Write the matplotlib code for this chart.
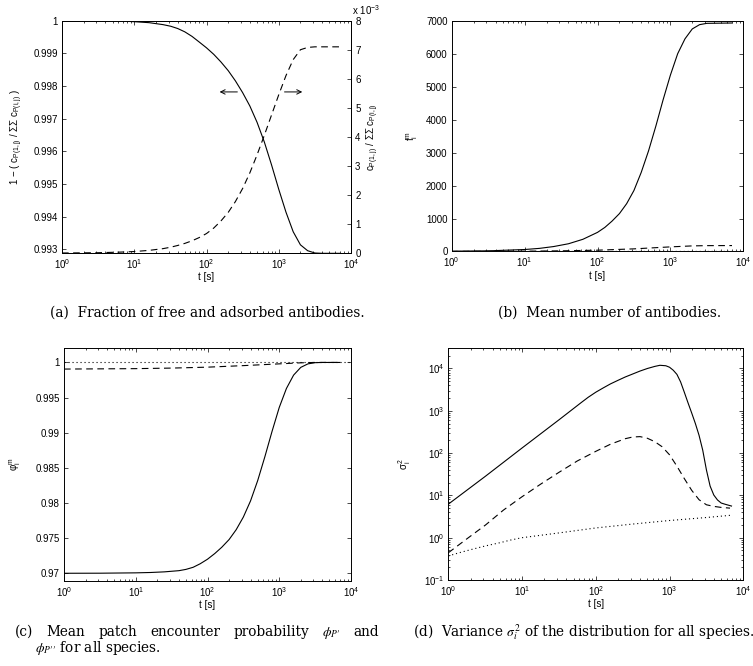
import matplotlib
matplotlib.use("Agg")
import numpy as np
import matplotlib.pyplot as plt
from matplotlib.ticker import LogLocator, FixedLocator, FuncFormatter, NullFormatter

plt.rcParams['font.family'] = ['Liberation Sans', 'DejaVu Sans']
plt.rcParams['mathtext.default'] = 'regular'
plt.rcParams['axes.linewidth'] = 0.7

# ---------------- data ----------------
# (a) fraction of free / adsorbed antibodies
t_a = [1, 3.2, 6.3, 10, 16, 25, 32, 40, 50, 63, 79, 100, 126, 158, 200, 251, 316,
       398, 501, 631, 794, 1000, 1259, 1585, 1995, 2512, 3162, 3981, 7000]
free_frac = [1.0, 0.999995, 0.99999, 0.99997, 0.99994, 0.99988, 0.99983, 0.99976,
             0.99966, 0.99952, 0.99935, 0.99917, 0.99897, 0.99874, 0.99847, 0.99816,
             0.99780, 0.99739, 0.99689, 0.99629, 0.99559, 0.99484, 0.99414, 0.99354,
             0.99314, 0.99296, 0.99289, 0.99288, 0.99288]
ads_frac = [0.0, 0.01e-3, 0.03e-3, 0.05e-3, 0.09e-3, 0.15e-3, 0.20e-3, 0.26e-3,
            0.33e-3, 0.42e-3, 0.53e-3, 0.67e-3, 0.86e-3, 1.10e-3, 1.40e-3, 1.77e-3,
            2.22e-3, 2.76e-3, 3.38e-3, 4.05e-3, 4.75e-3, 5.45e-3, 6.11e-3, 6.66e-3,
            7.00e-3, 7.08e-3, 7.10e-3, 7.10e-3, 7.10e-3]

# (b) mean number of antibodies
t_b = [1, 3.2, 10, 16, 25, 40, 63, 100, 126, 158, 200, 251, 316, 398, 501, 631,
       794, 1000, 1259, 1585, 1995, 2512, 3162, 7000]
f_solid = [10, 20, 60, 95, 150, 235, 370, 580, 730, 920, 1150, 1450, 1850, 2400,
           3050, 3800, 4600, 5350, 6000, 6450, 6750, 6880, 6920, 6930]
t_b2 = [1, 10, 32, 100, 316, 1000, 1995, 3162, 7000]
f_dashed = [2, 10, 20, 40, 80, 140, 170, 178, 180]
t_b3 = [1, 10, 100, 1000, 7000]
f_dotted = [0.5, 1.0, 2.0, 2.5, 3.0]

# (c) mean patch encounter probability
t_c = [1, 3.2, 10, 16, 25, 40, 50, 63, 79, 100, 126, 158, 200, 251, 316, 398, 501,
       631, 794, 1000, 1259, 1585, 1995, 2512, 3162, 3981, 7000]
phi_solid = [0.97, 0.97001, 0.97006, 0.97011, 0.97020, 0.97037, 0.97055, 0.97085,
             0.97135, 0.9720, 0.9728, 0.9737, 0.9748, 0.9762, 0.9780, 0.9803,
             0.9832, 0.9866, 0.9902, 0.9936, 0.9963, 0.9982, 0.9993, 0.9998,
             0.99997, 1.0, 1.0]
t_c2 = [1, 10, 32, 100, 316, 1000, 1995, 3162, 7000]
phi_dashed = [0.99906, 0.99912, 0.99920, 0.99933, 0.99955, 0.99980, 0.99995, 1.0, 1.0]
t_c3 = [1, 10000]
phi_dotted = [1.0, 1.0]

# (d) variance of the distribution
t_d1 = [1, 3.2, 10, 32, 63, 79, 100, 126, 158, 200, 251, 316, 398, 501, 631, 741,
        891, 1000, 1122, 1259, 1413, 1585, 1778, 1995, 2239, 2512, 2818, 3162,
        3548, 3981, 4467, 5012, 5623, 6918]
var_solid = [6.2, 28.5, 132, 620, 1550, 2090, 2750, 3470, 4320, 5250, 6300, 7400,
             8700, 10000, 11200, 11900, 11600, 10700, 9100, 7250, 4800, 2750, 1550,
             890, 500, 263, 117, 40, 16.6, 10.2, 7.8, 6.6, 6.2, 5.6]
t_d2 = [1, 1.8, 3.2, 5.6, 10, 18, 32, 56, 100, 158, 251, 316, 398, 501, 631, 794,
        1000, 1259, 1585, 1995, 2512, 3162, 3981, 5012, 6607]
var_dashed = [0.44, 0.95, 2.0, 4.5, 9.3, 18.6, 35.5, 65, 110, 162, 219, 240, 245,
              224, 186, 141, 91, 49, 25, 13.2, 7.9, 6.0, 5.5, 5.2, 5.0]
t_d3 = [1, 1.4, 2, 3.2, 5, 7, 10, 32, 100, 316, 1000, 3162, 6918]
var_dotted = [0.37, 0.44, 0.52, 0.64, 0.76, 0.88, 1.0, 1.3, 1.7, 2.1, 2.55, 3.0, 3.4]

# ---------------- figure ----------------
W, H = 753, 666
fig = plt.figure(figsize=(W / 100, H / 100), dpi=100)


def axes_px(left, top, right, bottom):
    return fig.add_axes([left / W, 1 - bottom / H, (right - left) / W, (bottom - top) / H])


LW = 0.8
DASH = (6, 4)
DOT = (0, (1, 2.6))


def style(ax, right=True):
    ax.set_xscale('log')
    ax.set_xlim(1, 1e4)
    ax.xaxis.set_major_locator(LogLocator(base=10, numticks=10))
    ax.xaxis.set_minor_locator(LogLocator(base=10, subs=np.arange(2, 10), numticks=10))
    ax.xaxis.set_minor_formatter(NullFormatter())
    ax.tick_params(which='both', direction='in', top=True, right=right,
                   labelsize=7, width=0.5, pad=3)
    ax.tick_params(which='major', length=3)
    ax.tick_params(which='minor', length=1.6)
    ax.set_xlabel('t [s]', fontsize=7, labelpad=1)


g = FuncFormatter(lambda v, p: f'{v:g}')

# (a)
axa = axes_px(62, 20.7, 351, 253)
style(axa, right=False)
axa.plot(t_a, free_frac, color='k', lw=LW)
axa.set_ylim(0.99289, 1.0)
axa.yaxis.set_major_locator(FixedLocator(np.round(np.arange(0.993, 1.0001, 0.001), 3)))
axa.yaxis.set_major_formatter(g)
axa.set_ylabel('1 \u2212 ( c$_{P(1,j)}$ / \u03a3\u03a3 c$_{P(i,j)}$ )', fontsize=7, labelpad=6)
axa2 = axa.twinx()
axa2.plot(t_a, ads_frac, color='k', lw=LW, ls='--', dashes=DASH)
axa2.set_ylim(0, 8e-3)
axa2.yaxis.set_major_locator(FixedLocator(np.arange(0, 9) * 1e-3))
axa2.yaxis.set_major_formatter(FuncFormatter(lambda v, p: f'{v * 1e3:g}'))
axa2.tick_params(which='both', direction='in', labelsize=7, width=0.5, length=3, pad=3)
axa2.set_ylabel('c$_{P(1,j)}$ / \u03a3\u03a3 c$_{P(i,j)}$', fontsize=7, labelpad=3)
fig.text(352 / W, 1 - 10 / H, 'x 10$^{-3}$', fontsize=7, ha='left', va='center')
arrow = dict(arrowstyle='->', color='k', lw=0.7, mutation_scale=8)
axa.annotate('', xy=(139, 0.99782), xytext=(292, 0.99782), arrowprops=arrow)
axa.annotate('', xy=(2311, 0.99782), xytext=(1100, 0.99782), arrowprops=arrow)

# (b)
axb = axes_px(451.7, 20.7, 743.3, 251.5)
style(axb)
axb.plot(t_b, f_solid, color='k', lw=LW)
axb.plot(t_b2, f_dashed, color='k', lw=LW, ls='--', dashes=DASH)
axb.plot(t_b3, f_dotted, color='k', lw=LW, ls=DOT)
axb.set_ylim(0, 7000)
axb.yaxis.set_major_locator(FixedLocator(np.arange(0, 7001, 1000)))
axb.yaxis.set_major_formatter(g)
axb.set_ylabel('$f_i^m$', fontsize=7, labelpad=4)

# (c)
axc = axes_px(64, 347.7, 351, 581)
style(axc)
axc.plot(t_c, phi_solid, color='k', lw=LW)
axc.plot(t_c2, phi_dashed, color='k', lw=LW, ls='--', dashes=DASH)
axc.plot(t_c3, phi_dotted, color='k', lw=LW, ls=DOT)
axc.set_ylim(0.9689, 1.0021)
axc.yaxis.set_major_locator(FixedLocator(np.round(np.arange(0.97, 1.0001, 0.005), 3)))
axc.yaxis.set_major_formatter(g)
axc.set_ylabel('$\u03c6_i^m$', fontsize=7, labelpad=9)

# (d)
axd = axes_px(448.3, 348.3, 743.3, 580)
style(axd)
axd.set_yscale('log')
axd.plot(t_d1, var_solid, color='k', lw=LW)
axd.plot(t_d2, var_dashed, color='k', lw=LW, ls='--', dashes=DASH)
axd.plot(t_d3, var_dotted, color='k', lw=LW, ls=DOT)
axd.set_ylim(0.1, 3e4)
axd.yaxis.set_major_locator(LogLocator(base=10, numticks=10))
axd.yaxis.set_minor_locator(LogLocator(base=10, subs=np.arange(2, 10), numticks=10))
axd.yaxis.set_minor_formatter(NullFormatter())
axd.set_ylabel('$\u03c3_i^2$', fontsize=7, labelpad=7.5)

# ---------------- captions ----------------
cap = dict(family=['DejaVu Serif'], fontsize=9.8,
           math_fontfamily='stix', va='baseline')


def fy(y):
    return 1 - y / H


fig.text(207 / W, fy(317), '(a)  Fraction of free and adsorbed antibodies.', ha='center', **cap)
fig.text(610 / W, fy(317), '(b)  Mean number of antibodies.', ha='center', **cap)


def justified(words, x0, x1, y):
    renderer = fig.canvas.get_renderer()
    texts = [fig.text(0, fy(y), w, ha='left', **cap) for w in words]
    widths = [t.get_window_extent(renderer).width for t in texts]
    gap = ((x1 - x0) - sum(widths)) / (len(words) - 1)
    x = x0
    for t, w in zip(texts, widths):
        t.set_x(x / W)
        x += w + gap


justified(['(c)', 'Mean', 'patch', 'encounter', 'probability',
           r'$\mathit{\phi_{P\prime}}$', 'and'], 15, 379, 636)
fig.text(35 / W, fy(652), r'$\mathit{\phi_{P\prime\prime}}$ for all species.', ha='left', **cap)
fig.text(413 / W, fy(636), r'(d)  Variance $\mathit{\sigma_i^2}$ of the distribution for all species.',
         ha='left', **cap)

fig.savefig('out.png', dpi=100)
